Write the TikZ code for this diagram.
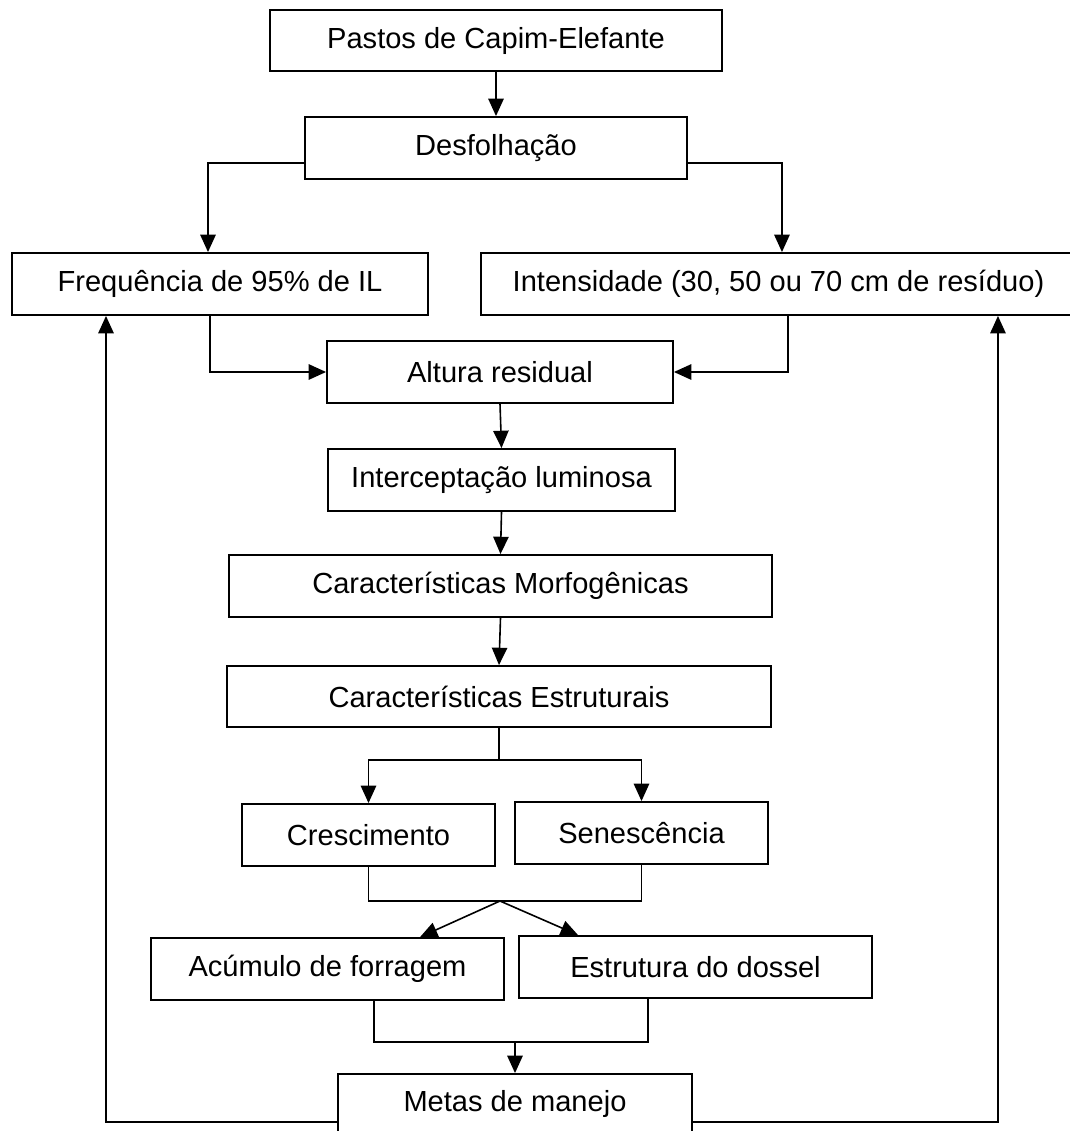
\documentclass[tikz,border=0pt]{standalone}
\usepackage{fontspec}
\setmainfont{Liberation Sans}
\usetikzlibrary{arrows.meta}
\tikzset{
  bx/.style={draw, line width=1.4pt, rectangle, inner sep=0pt, align=center,
             font=\fontsize{21.8}{26}\selectfont},
  ln/.style={line width=1.2pt},
  arr/.style={ln, -{Triangle[length=13pt,width=11.5pt]}}
}
\begin{document}
\begin{tikzpicture}[x=0.75pt,y=-0.75pt]
\useasboundingbox (0,0) rectangle (1070,1131);
% boxes
\node[bx, minimum width=339pt, minimum height=45.75pt] (A) at (496,40.5) {Pastos de Capim-Elefante};
\node[bx, minimum width=286.5pt, minimum height=46.5pt] (B) at (496,148) {Desfolhação};
\node[bx, minimum width=312pt, minimum height=46.5pt] (C) at (220,284) {Frequência de 95\% de IL};
\node[bx, minimum width=446.25pt, minimum height=46.5pt] (D) at (778.5,284) {Intensidade (30, 50 ou 70 cm de resíduo)};
\node[bx, minimum width=259.5pt, minimum height=46.5pt] (E) at (500,372) {Altura residual};
\node[bx, minimum width=260.25pt, minimum height=46.5pt] (F) at (501.5,480) {Interceptação luminosa};
\node[bx, minimum width=407.25pt, minimum height=46.5pt] (G) at (500.5,586) {Características Morfogênicas};
\node[bx, minimum width=408pt, minimum height=45.75pt] (H) at (499,696.5) {Características Estruturais};
\node[bx, minimum width=189.75pt, minimum height=46.5pt] (I) at (368.5,835) {Crescimento};
\node[bx, minimum width=189.75pt, minimum height=46.5pt] (J) at (641.5,833) {Senescência};
\node[bx, minimum width=264.75pt, minimum height=46.5pt] (K) at (327.5,969) {Acúmulo de forragem};
\node[bx, minimum width=264.75pt, minimum height=46.5pt] (L) at (695.5,967) {Estrutura do dossel};
\node[bx, minimum width=265.5pt, minimum height=45pt] (M) at (515,1104) {Metas de manejo};
% connectors
\draw[arr] (A.south) -- (B.north);
\draw[arr] ([yshift=-11.25pt]B.west) -| ([xshift=-9pt]C.north);
\draw[arr] ([yshift=-11.25pt]B.east) -| ([xshift=2.6pt]D.north);
\draw[arr] ([xshift=-7.5pt]C.south) |- (E.west);
\draw[arr] ([xshift=7.1pt]D.south) |- (E.east);
\draw[arr] (E.south) -- (F.north);
\draw[arr] (F.south) -- (G.north);
\draw[arr] (G.south) -- (H.north);
\coordinate (hs) at (H.south |- 0,760);
\draw[ln] (H.south) -- (hs);
\draw[arr] (hs) -| (I.north);
\draw[arr] (hs) -| (J.north);
\coordinate (ij) at (500,901);
\draw[ln] (I.south) -- (I.south |- ij) -- (J.south |- ij) -- (J.south);
\draw[arr] (ij) -- ([xshift=69.4pt]K.north);
\draw[arr] (ij) -- ([xshift=-88.1pt]L.north);
\coordinate (kl) at (M.north |- 0,1042);
\draw[ln] ([xshift=34.9pt]K.south) -- ([xshift=34.9pt]K.south |- kl) -- ([xshift=-35.6pt]L.south |- kl) -- ([xshift=-35.6pt]L.south);
\draw[arr] (kl) -- (M.north);
\draw[arr] ([yshift=-13.5pt]M.west) -| ([xshift=-85.5pt]C.south);
\draw[arr] ([yshift=-13.5pt]M.east) -| ([xshift=164.6pt]D.south);
\end{tikzpicture}
\end{document}
